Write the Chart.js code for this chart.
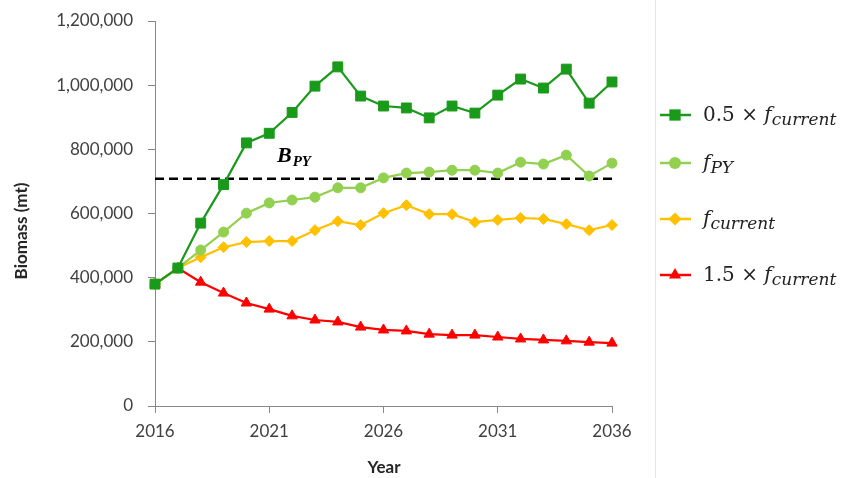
<!DOCTYPE html>
<html>
<head>
<meta charset="utf-8">
<script src="https://cdn.jsdelivr.net/npm/chart.js@4"></script>
<style>
  html, body { margin: 0; padding: 0; background: #fff; }
  #wrap { width: 847px; height: 478px; position: relative; }
</style>
</head>
<body>
<div id="wrap"><canvas id="myChart" width="847" height="478"></canvas></div>
<script>
const years = [];
for (let y = 2016; y <= 2036; y++) years.push(y);

const halfF = [380000, 430000, 570000, 690000, 820000, 850000, 915000, 997000, 1057000, 966000, 935000,
  929000, 898000, 935000, 913000, 969000, 1019000, 991000, 1050000, 944000, 1010000];
const fPY = [380000, 430000, 486000, 542000, 601000, 633000, 642000, 651000, 680000, 680000, 711000,
  726000, 729000, 735000, 735000, 726000, 760000, 754000, 782000, 717000, 757000];
const fCurrent = [380000, 430000, 464000, 495000, 511000, 514000, 514000, 548000, 576000, 564000, 601000,
  626000, 598000, 598000, 573000, 580000, 586000, 583000, 567000, 548000, 564000];
const oneHalfF = [380000, 430000, 386000, 352000, 321000, 302000, 281000, 268000, 262000, 246000, 237000,
  234000, 224000, 221000, 221000, 215000, 209000, 206000, 203000, 199000, 196000];
const bPY = 708000;

const ctx = document.querySelector('#myChart').getContext('2d');

function pts(arr) {
  return arr.map((v, i) => ({ x: years[i], y: v }));
}

const series = [
  { data: halfF, color: '#1a9a1a', style: 'rect', r: 7, label: [['0.5 × ', 'n'], ['f', 'i'], ['current', 's']] },
  { data: fPY, color: '#92d050', style: 'circle', r: 5, label: [['f', 'i'], ['PY', 's']] },
  { data: fCurrent, color: '#ffc000', style: 'rectRot', r: 5.5, label: [['f', 'i'], ['current', 's']] },
  { data: oneHalfF, color: '#ff0000', style: 'triangle', r: 6, label: [['1.5 × ', 'n'], ['f', 'i'], ['current', 's']] },
];

const datasets = series.map(s => ({
  data: pts(s.data),
  borderColor: s.color,
  backgroundColor: s.color,
  borderWidth: 2.2,
  pointStyle: s.style,
  pointRadius: s.r,
  pointBorderWidth: 1,
  tension: 0,
  clip: false,
}));
datasets.push({
  data: years.map(y => ({ x: y, y: bPY })),
  borderColor: '#000',
  borderWidth: 2.5,
  borderDash: [9, 5],
  pointRadius: 0,
  clip: false,
});

const SERIF = '"DejaVu Serif", "Liberation Serif", serif';
const SANS = 'Lato, "Open Sans", "Liberation Sans", sans-serif';

function drawMixed(c, x, y, parts, size) {
  parts.forEach(([t, kind]) => {
    let font, dy = 0;
    if (kind === 'n') font = size + 'px ' + SERIF;
    else if (kind === 'i') font = 'italic ' + size + 'px ' + SERIF;
    else { font = 'italic ' + Math.round(size * 0.85) + 'px ' + SERIF; dy = 4; }
    c.font = font;
    c.fillText(t, x, y + dy);
    x += c.measureText(t).width;
  });
}

const extras = {
  id: 'extras',
  afterDraw(chart) {
    const c = chart.ctx;
    c.save();
    // faint frame line
    c.strokeStyle = '#e4e4e4';
    c.lineWidth = 1;
    c.beginPath();
    c.moveTo(655.5, 0);
    c.lineTo(655.5, 478);
    c.stroke();

    // axis titles
    c.fillStyle = '#262626';
    c.font = 'bold 17px ' + SANS;
    c.textAlign = 'center';
    c.textBaseline = 'middle';
    c.fillText('Year', 384, 468);
    c.save();
    c.translate(22, 231);
    c.rotate(-Math.PI / 2);
    c.fillText('Biomass (mt)', 0, 0);
    c.restore();
    c.textAlign = 'left';

    // B_PY label
    c.fillStyle = '#000';
    c.textBaseline = 'alphabetic';
    c.font = 'bold italic 22px "Liberation Serif", serif';
    c.fillText('B', 277, 162);
    const bw = c.measureText('B').width;
    c.font = 'bold italic 15px "Liberation Serif", serif';
    c.fillText('PY', 277 + bw + 1, 166);

    // legend
    const ys = [115, 163, 219, 275];
    series.forEach((s, i) => {
      const y = ys[i];
      c.strokeStyle = s.color;
      c.lineWidth = 2.5;
      c.beginPath();
      c.moveTo(660, y);
      c.lineTo(691, y);
      c.stroke();
      c.fillStyle = s.color;
      Chart.helpers.drawPoint(c, { pointStyle: s.style, radius: s.r + 1, borderWidth: 0 }, 675, y);
      c.fillStyle = '#222';
      c.textBaseline = 'alphabetic';
      drawMixed(c, 703, y + 6, s.label, 20);
    });
    c.restore();
  }
};

const tickFont = { family: SANS, size: 17 };

const config = {
  type: 'line',
  data: { datasets },
  options: {
    responsive: false,
    animation: false,
    layout: { padding: { left: 0, right: 235, top: 21, bottom: 0 } },
    plugins: { legend: { display: false }, tooltip: { enabled: false } },
    scales: {
      x: {
        type: 'linear',
        min: 2016,
        max: 2036,
        ticks: { stepSize: 5, color: '#404040', font: tickFont, padding: 8, callback: v => String(v) },
        grid: { drawOnChartArea: false, tickLength: 7, color: '#888' },
        border: { color: '#888', width: 1 },
        afterFit(scale) { scale.height = 72; scale.paddingLeft = 0; scale.paddingRight = 0; }
      },
      y: {
        min: 0,
        max: 1200000,
        ticks: { stepSize: 200000, color: '#404040', font: tickFont, padding: 15,
          callback: v => v.toLocaleString('en-US') },
        grid: { drawOnChartArea: false, tickLength: 7, color: '#888' },
        border: { color: '#888', width: 1 },
        afterFit(scale) { scale.width = 155; scale.paddingTop = 0; scale.paddingBottom = 0; }
      }
    }
  },
  plugins: [extras]
};

const myChart = new Chart(ctx, config);
</script>
</body>
</html>
